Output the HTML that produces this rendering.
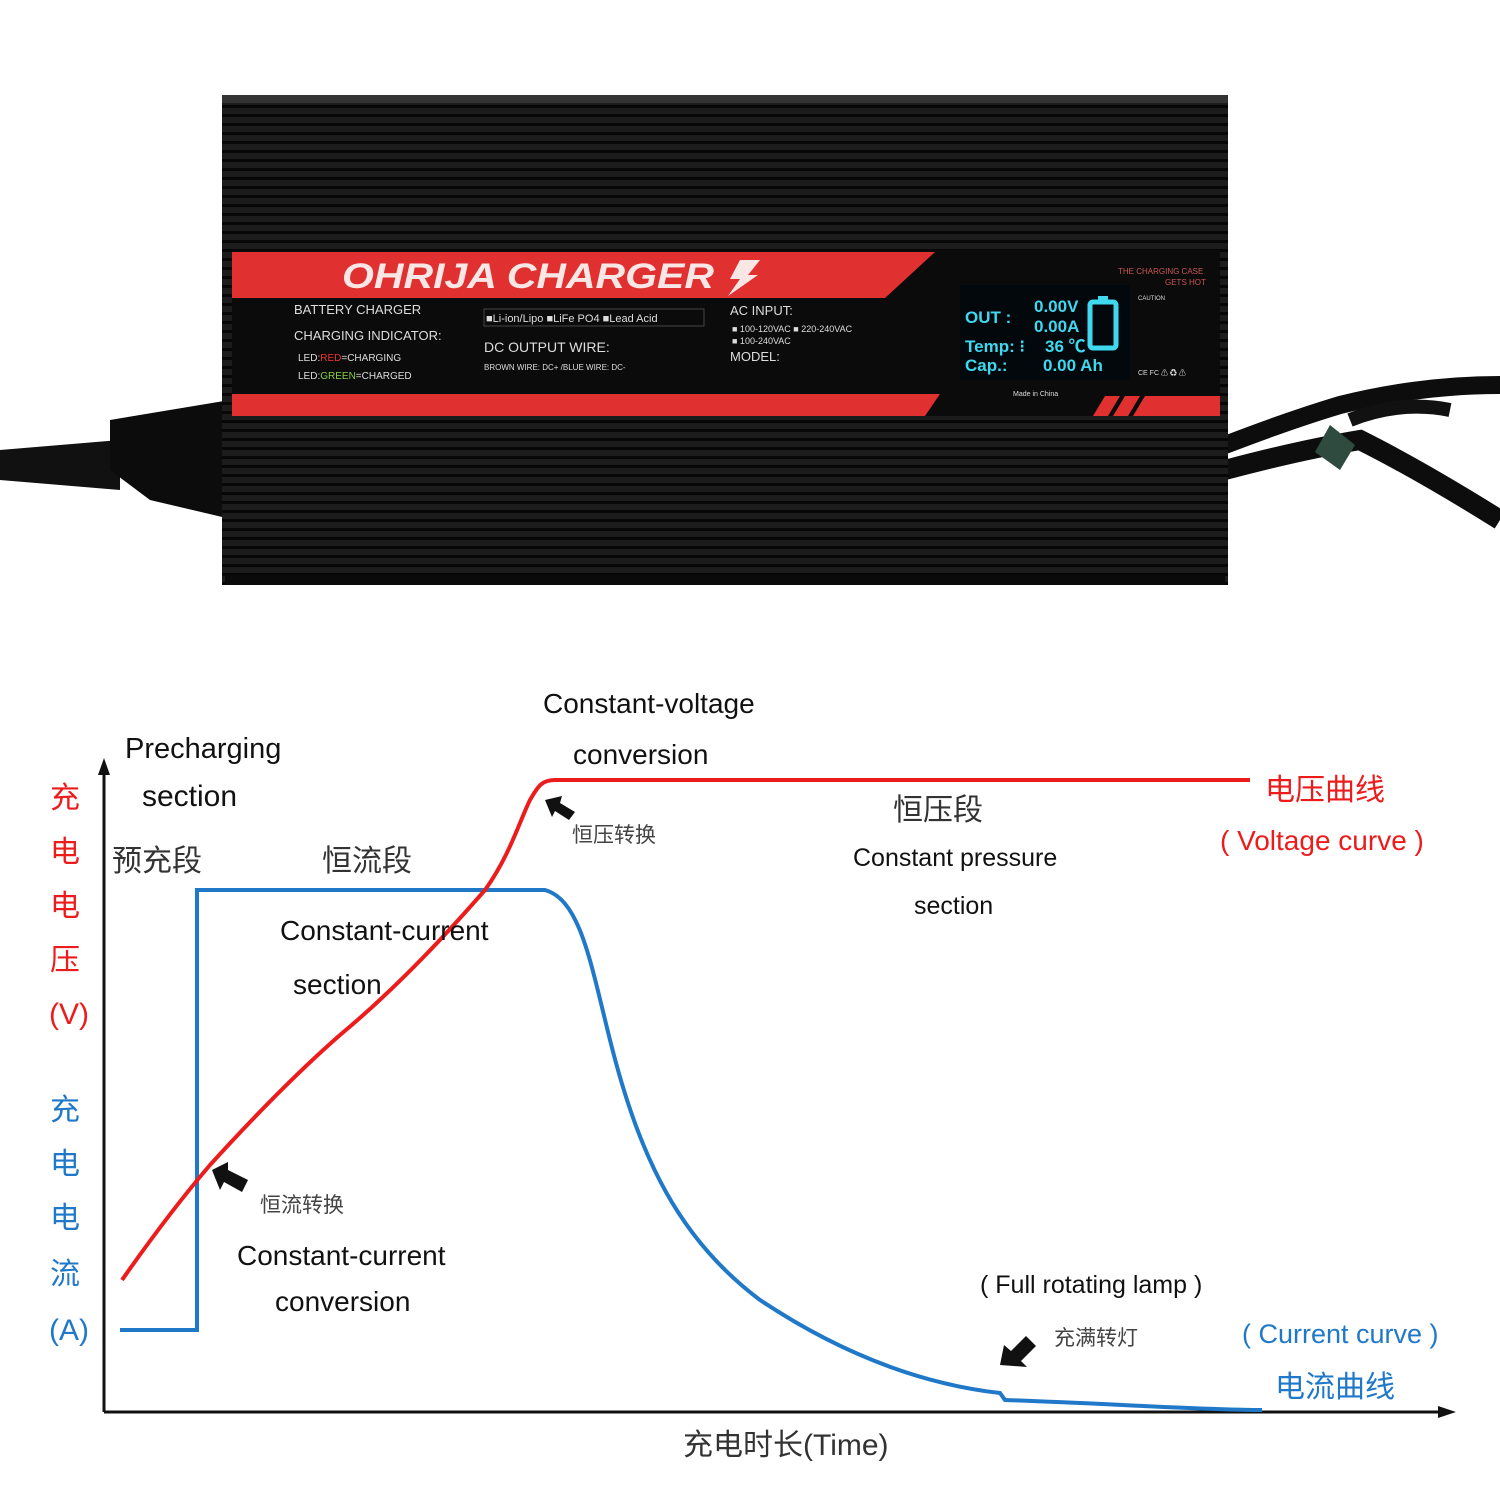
<!DOCTYPE html>
<html><head><meta charset="utf-8"><style>
html,body{margin:0;padding:0;background:#fff;}
svg text{font-family:"Liberation Sans","Noto Sans CJK SC",sans-serif;}
</style></head><body>
<svg width="1500" height="1500" viewBox="0 0 1500 1500" xmlns="http://www.w3.org/2000/svg">
<defs>
<pattern id="st" width="10" height="9" patternUnits="userSpaceOnUse">
<rect width="10" height="9" fill="#1c1c1c"/><rect y="6" width="10" height="3" fill="#070707"/>
</pattern>
</defs>
<rect width="1500" height="1500" fill="#fff"/>
<!-- cables -->
<path d="M0 450 L120 440 L120 490 L0 480Z" fill="#111"/>
<path d="M110 420 L230 400 L235 520 L150 500 L110 470Z" fill="#0c0c0c"/>
<path d="M1225 445 Q1290 420 1340 405 Q1420 385 1500 385" fill="none" stroke="#0d0d0d" stroke-width="18"/>
<path d="M1225 470 Q1300 450 1360 440 Q1420 470 1500 520" fill="none" stroke="#0d0d0d" stroke-width="20"/>
<path d="M1350 420 Q1400 400 1450 410" fill="none" stroke="#111" stroke-width="14"/>
<path d="M1330 425 L1355 445 L1340 470 L1315 452Z" fill="#2f4a3e"/>
<!-- body -->
<rect x="222" y="95" width="1006" height="490" fill="url(#st)"/>
<rect x="222" y="95" width="1006" height="8" fill="#333"/>
<rect x="225" y="575" width="1000" height="10" fill="#0a0a0a"/>
<!-- label -->
<rect x="232" y="250" width="988" height="166" fill="#0b0b0b"/>
<polygon points="232,252 935,252 885,298 232,298" fill="#e03030"/>
<polygon points="232,394 940,394 925,416 232,416" fill="#e03030"/>
<polygon points="1105,396 1120,396 1108,416 1093,416" fill="#e03030"/>
<polygon points="1125,396 1140,396 1128,416 1113,416" fill="#e03030"/>
<polygon points="1145,396 1220,396 1220,416 1133,416" fill="#e03030"/>
<text x="342" y="288" font-size="35" font-weight="bold" font-style="italic" fill="#fbe6e6" textLength="372" lengthAdjust="spacingAndGlyphs">OHRIJA  CHARGER</text>
<polygon points="740,260 760,260 748,275 758,275 728,296 740,279 730,279" fill="#fbe6e6"/>
<g fill="#ddd" font-size="13">
<text x="294" y="314">BATTERY CHARGER</text>
<text x="294" y="340">CHARGING INDICATOR:</text>
<text x="298" y="361" font-size="10">LED:<tspan fill="#e33">RED</tspan>=CHARGING</text>
<text x="298" y="379" font-size="10">LED:<tspan fill="#8c4">GREEN</tspan>=CHARGED</text>
<text x="486" y="322" font-size="11">■Li-ion/Lipo ■LiFe PO4 ■Lead Acid</text>
<text x="484" y="352" font-size="14">DC OUTPUT WIRE:</text>
<text x="484" y="370" font-size="8">BROWN WIRE: DC+ /BLUE WIRE: DC-</text>
<text x="730" y="315">AC INPUT:</text>
<text x="732" y="332" font-size="9">■ 100-120VAC  ■ 220-240VAC</text>
<text x="732" y="344" font-size="9">■ 100-240VAC</text>
<text x="730" y="361">MODEL:</text>
<text x="1013" y="396" font-size="7">Made in China</text>
<text x="1118" y="274" font-size="8" fill="#c55">THE CHARGING CASE</text>
<text x="1165" y="285" font-size="8" fill="#c55">GETS HOT</text>
<text x="1138" y="300" font-size="6">CAUTION</text>
<text x="1138" y="375" font-size="7">CE FC ⚠ ♻ ⚠</text>
</g>
<rect x="484" y="309" width="220" height="17" fill="none" stroke="#444"/>
<rect x="960" y="285" width="170" height="95" fill="#03080c"/>
<g fill="#3fd8ef" font-family="Liberation Serif,serif" font-weight="bold" font-size="17">
<text x="965" y="323">OUT :</text>
<text x="1034" y="312">0.00V</text>
<text x="1034" y="332">0.00A</text>
<text x="965" y="352">Temp: ⁝</text>
<text x="1045" y="352">36 ℃</text>
<text x="965" y="371">Cap.:</text>
<text x="1043" y="371">0.00 Ah</text>
</g>
<rect x="1090" y="302" width="26" height="46" rx="3" fill="none" stroke="#3fd8ef" stroke-width="5"/>
<rect x="1098" y="296" width="10" height="6" fill="#3fd8ef"/>
<!-- chart -->
<line x1="104" y1="1412" x2="104" y2="772" stroke="#111" stroke-width="3"/>
<polygon points="104,758 98,775 110,775" fill="#111"/>
<line x1="104" y1="1412" x2="1442" y2="1412" stroke="#111" stroke-width="3"/>
<polygon points="1456,1412 1438,1406 1438,1418" fill="#111"/>
<path d="M120 1330 L197 1330 L197 890 L545 890 C580 900 590 960 610 1040 C640 1160 680 1240 760 1300 C850 1360 930 1385 1000 1393 L1005 1400 C1100 1403 1200 1410 1262 1410" fill="none" stroke="#1f78c8" stroke-width="4"/>
<path d="M122 1280 C150 1240 180 1200 210 1165 C260 1110 300 1070 340 1035 C400 985 450 930 485 890 C510 855 520 820 530 800 C538 786 542 780 555 780 L1250 780" fill="none" stroke="#ec1c1c" stroke-width="4"/>
<g font-size="28" fill="#111">
<text x="125" y="758" font-size="29">Precharging</text>
<text x="142" y="806" font-size="30">section</text>
<text x="543" y="713">Constant-voltage</text>
<text x="573" y="764">conversion</text>
<text x="280" y="940">Constant-current</text>
<text x="293" y="994">section</text>
<text x="237" y="1265">Constant-current</text>
<text x="275" y="1311">conversion</text>
<text x="853" y="866" font-size="25">Constant pressure</text>
<text x="914" y="914" font-size="25">section</text>
<text x="980" y="1293" font-size="25">( Full rotating lamp )</text>
</g>
<g font-size="30" fill="#333">
<text x="112" y="871">预充段</text>
<text x="322" y="871">恒流段</text>
<text x="893" y="820">恒压段</text>
<text x="683" y="1455">充电时长(Time)</text>
</g>
<g font-size="21" fill="#444">
<text x="572" y="842">恒压转换</text>
<text x="260" y="1212">恒流转换</text>
<text x="1054" y="1345">充满转灯</text>
</g>
<text x="1265" y="800" font-size="30" fill="#ec1c1c">电压曲线</text>
<text x="1220" y="850" font-size="28" fill="#ec1c1c">( Voltage curve )</text>
<text x="1242" y="1343" font-size="27" fill="#1f78c8">( Current curve )</text>
<text x="1275" y="1397" font-size="30" fill="#1f78c8">电流曲线</text>
<g font-size="30" fill="#ec1c1c">
<text x="50" y="808">充</text><text x="50" y="862">电</text><text x="50" y="916">电</text><text x="50" y="970">压</text><text x="49" y="1024">(V)</text>
</g>
<g font-size="30" fill="#1f78c8">
<text x="50" y="1120">充</text><text x="50" y="1174">电</text><text x="50" y="1228">电</text><text x="50" y="1284">流</text><text x="49" y="1340">(A)</text>
</g>
<!-- arrows -->
<g fill="#111">
<polygon points="545,800 562,796 560,803 575,812 569,820 555,811 552,817"/>
<polygon points="212,1170 228,1162 228,1170 248,1180 242,1192 224,1182 220,1190"/>
<polygon points="1000,1365 1004,1345 1011,1351 1026,1336 1036,1346 1021,1361 1027,1367"/>
</g>
</svg>
</body></html>
